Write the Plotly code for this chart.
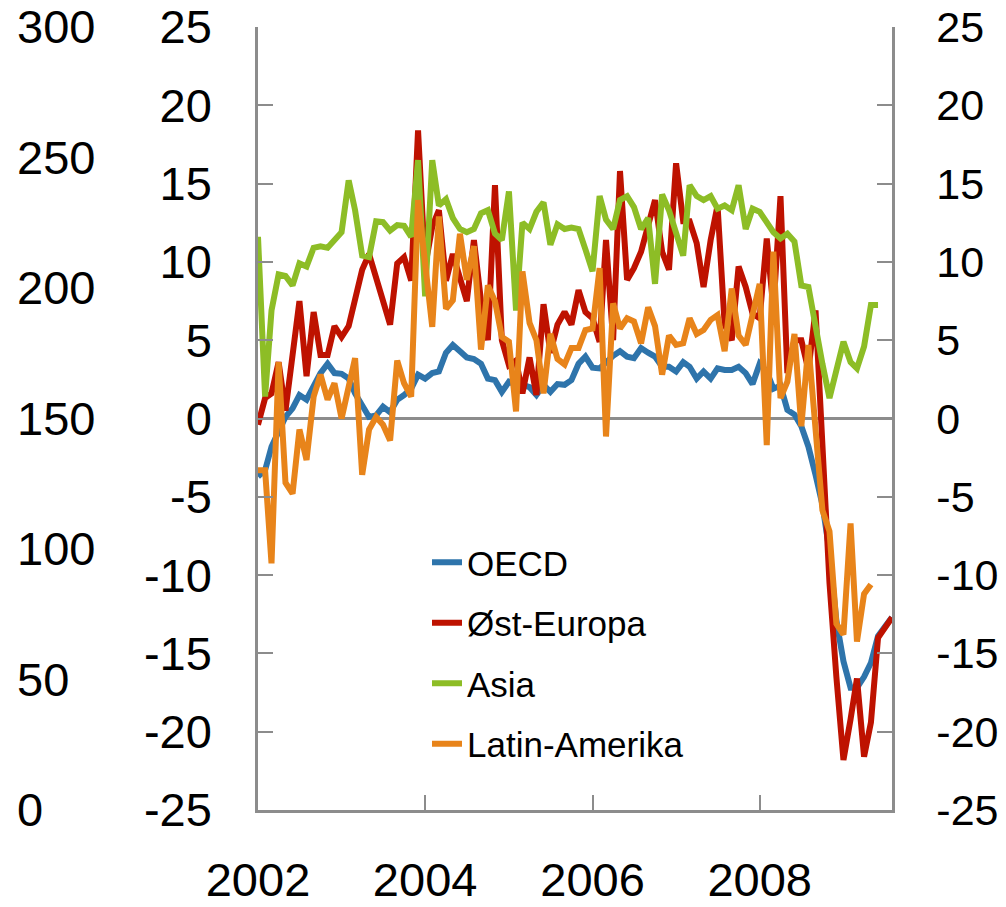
import pandas as pd
import plotly.graph_objects as go

months = pd.date_range("2002-01-01", "2009-08-01", freq="MS")

oecd = [-3.7, -3.3, -1.8, -0.85, 0.1, 0.65, 1.5, 1.2, 2.0, 2.9,
        3.5, 2.9, 2.85, 2.55, 1.6, 0.75, 0.1, 0.2, 0.75, 0.4,
        1.2, 1.5, 1.9, 2.8, 2.55, 2.9, 3.0, 4.2, 4.7, 4.3,
        3.9, 3.8, 3.5, 2.55, 2.45, 1.7, 2.35, 2.15, 2.15, 2.0,
        1.5, 2.15, 1.7, 2.2, 2.15, 2.45, 3.5, 3.95, 3.25, 3.2,
        3.6, 4.0, 4.3, 3.95, 3.85, 4.5, 4.2, 3.95, 3.3, 3.3,
        3.0, 3.6, 3.3, 2.55, 3.0, 2.55, 3.2, 3.1, 3.1, 3.3,
        2.9, 2.2, 3.5, 3.0, 1.9, 2.1, 0.55, 0.25, -0.5, -1.8,
        -3.6, -5.5, -8.5, -12.9, -15.5, -17.2, -17.2, -16.5, -15.6, -13.9,
        -13.3, -12.7]

ost_europa = [-0.4, 1.3, 1.6, 3.6, 0.5, 4.0, 7.5, 2.7, 6.8, 4.05,
              4.05, 5.9, 5.2, 5.9, 7.5, 9.5, 10.5, 9.0, 7.4, 6.0,
              9.9, 10.3, 8.8, 18.4, 9.7, 12.25, 13.3, 8.8, 10.5, 9.0,
              7.5, 11.4, 7.5, 5.0, 14.9, 5.0, 3.4, 3.7, 1.6, 3.9,
              1.5, 7.3, 4.2, 6.0, 6.8, 6.0, 8.2, 6.8, 6.4, 4.9,
              11.4, 5.0, 15.8, 8.85, 9.6, 10.65, 12.3, 13.95, 10.65, 9.5,
              16.3, 12.6, 12.6, 11.2, 8.4, 11.4, 13.6, 6.0, 5.0, 9.7,
              8.4, 6.7, 6.4, 11.5, 7.0, 14.2, 2.9, 5.0, 5.0, 3.1,
              6.9, -2.0, -10.5, -16.5, -21.8, -19.2, -16.6, -21.6, -19.4, -14.0,
              -13.4, -12.7]

asia = [11.6, 1.4, 6.9, 9.2, 9.1, 8.5, 9.9, 9.7, 10.9, 11.0,
        10.9, 11.4, 11.9, 15.2, 13.3, 10.4, 10.3, 12.6, 12.55, 12.0,
        12.35, 12.3, 11.6, 16.5, 7.8, 16.5, 13.6, 14.0, 12.8, 12.1,
        11.9, 12.1, 13.1, 13.3, 11.8, 11.4, 14.5, 6.9, 12.5, 12.1,
        13.2, 13.8, 11.1, 12.4, 12.1, 12.2, 12.1, 10.8, 9.4, 14.2,
        12.7, 12.1, 13.95, 14.2, 13.5, 12.1, 12.8, 8.6, 14.3, 13.3,
        11.9, 10.4, 14.9, 14.2, 13.95, 14.2, 13.4, 13.6, 13.3, 14.9,
        12.1, 13.4, 13.2, 12.6, 11.9, 11.5, 11.8, 11.3, 8.5, 8.4,
        5.65, 3.5, 1.3, 3.1, 4.9, 3.6, 3.2, 4.6, 7.25, 7.25]

latin_amerika = [-3.3, -3.3, -9.25, 3.6, -4.1, -4.8, -0.7, -2.65, 1.4, 2.8,
                 1.2, 2.25, 0.0, 2.0, 3.85, -3.6, -0.7, 0.1, -0.4, -1.4,
                 3.7, 2.25, 1.4, 13.95, 10.0, 5.85, 12.9, 7.0, 7.55, 11.8,
                 8.85, 11.0, 4.4, 8.5, 7.5, 5.2, 4.9, 0.45, 9.4, 6.1,
                 5.0, 1.6, 5.4, 3.8, 3.45, 4.5, 4.5, 5.65, 5.75, 9.6,
                 -1.15, 7.35, 5.75, 6.4, 6.2, 4.8, 7.1, 5.9, 2.8, 5.3,
                 4.7, 4.8, 6.4, 5.4, 5.65, 6.3, 6.6, 4.3, 8.3, 5.3,
                 4.7, 6.5, 8.6, -1.7, 10.65, 1.3, 2.35, 5.4, -0.5, 4.7,
                 -1.0, -5.85, -7.2, -13.1, -13.8, -6.7, -14.25, -11.2, -10.6]

series_names = ["OECD", "Øst-Europa", "Asia", "Latin-Amerika"]
series_values = [oecd, ost_europa, asia, latin_amerika]
series_colors = ["#2E74AB", "#BE1200", "#8DBD26", "#E8841A"]

year_ticks = ["2002-01-01", "2004-01-01", "2006-01-01", "2008-01-01"]
inner_ticks = list(range(-25, 26, 5))
inner_labels = [str(v) for v in inner_ticks]          # plain hyphen minus
outer_ticks = list(range(0, 301, 50))
outer_labels = [str(v) for v in outer_ticks]

FONT = "Liberation Sans, Arial, sans-serif"
AXIS_GREY = "#8C8C8C"
TXT = "#000000"
FS = 47
FS_RIGHT = 43

# page has an 8px body margin; figure coordinates = page coordinates - 8
W, H = 998, 899
PL, PR, PT, PB = 250, 884, 19, 802   # plot area edges in figure coordinates
ML = 5                                # margin holding the outer 0-300 labels
paper_w = PR - ML
paper_h = PB - PT

fig = go.Figure()
for i, (name, vals, col) in enumerate(zip(series_names, series_values, series_colors)):
    fig.add_trace(go.Scatter(
        x=months[:len(vals)], y=vals, name=name, mode="lines",
        line=dict(color=col, width=6),
        legendgroup=f"g{i}", hoverinfo="skip",
    ))

# carrier traces so the right-hand and outer left axes are drawn
fig.add_trace(go.Scatter(x=months[:len(oecd)], y=oecd, yaxis="y2", mode="lines",
                         line=dict(width=0, color="rgba(0,0,0,0)"),
                         showlegend=False, hoverinfo="skip"))
fig.add_trace(go.Scatter(x=[months[0]], y=[None], yaxis="y3", mode="lines",
                         showlegend=False, hoverinfo="skip"))

common_y = dict(
    range=[-25, 25], tickvals=inner_ticks, ticktext=inner_labels,
    ticks="inside", ticklen=15, tickwidth=1.5, tickcolor=AXIS_GREY,
    showline=True, linecolor=AXIS_GREY, linewidth=2.5,
    showgrid=False, automargin=False, ticklabeloverflow="allow",
)

fig.update_layout(
    width=W, height=H,
    margin=dict(l=ML, r=W - PR, t=PT, b=H - PB),
    paper_bgcolor="white", plot_bgcolor="white",
    font=dict(family=FONT, size=FS, color=TXT),
    showlegend=True,
    legend=dict(
        x=(419 - ML) / paper_w, xanchor="left",
        y=(PB - 525) / paper_h, yanchor="top",
        font=dict(size=35, color=TXT),
        bgcolor="rgba(0,0,0,0)", tracegroupgap=12,
    ),
    xaxis=dict(
        type="date", domain=[(PL - ML) / paper_w, 1],
        range=["2002-01-01", "2009-08-01"],
        tickvals=year_ticks, tickformat="%Y",
        ticks="inside", ticklen=15, tickwidth=1.5, tickcolor=AXIS_GREY,
        showline=True, linecolor=AXIS_GREY, linewidth=2.5,
        showgrid=False, zeroline=False, automargin=False,
        ticklabelstandoff=27, ticklabeloverflow="allow",
        tickfont=dict(size=FS, color=TXT),
    ),
    yaxis=dict(**common_y, zeroline=True, zerolinecolor=AXIS_GREY, zerolinewidth=2.5,
               ticklabelstandoff=34, tickfont=dict(size=FS, color=TXT)),
    yaxis2=dict(**common_y, overlaying="y", side="right", anchor="x", zeroline=False,
                ticklabelstandoff=33, tickfont=dict(size=FS_RIGHT, color=TXT)),
    yaxis3=dict(
        overlaying="y", side="left", anchor="free", position=0,
        range=[0, 300], tickvals=outer_ticks, ticktext=outer_labels,
        ticks="", showline=False, showgrid=False, zeroline=False, automargin=False,
        ticklabelposition="inside", ticklabeloverflow="allow",
        tickfont=dict(size=FS, color=TXT),
    ),
)

fig.write_html("out.html")
